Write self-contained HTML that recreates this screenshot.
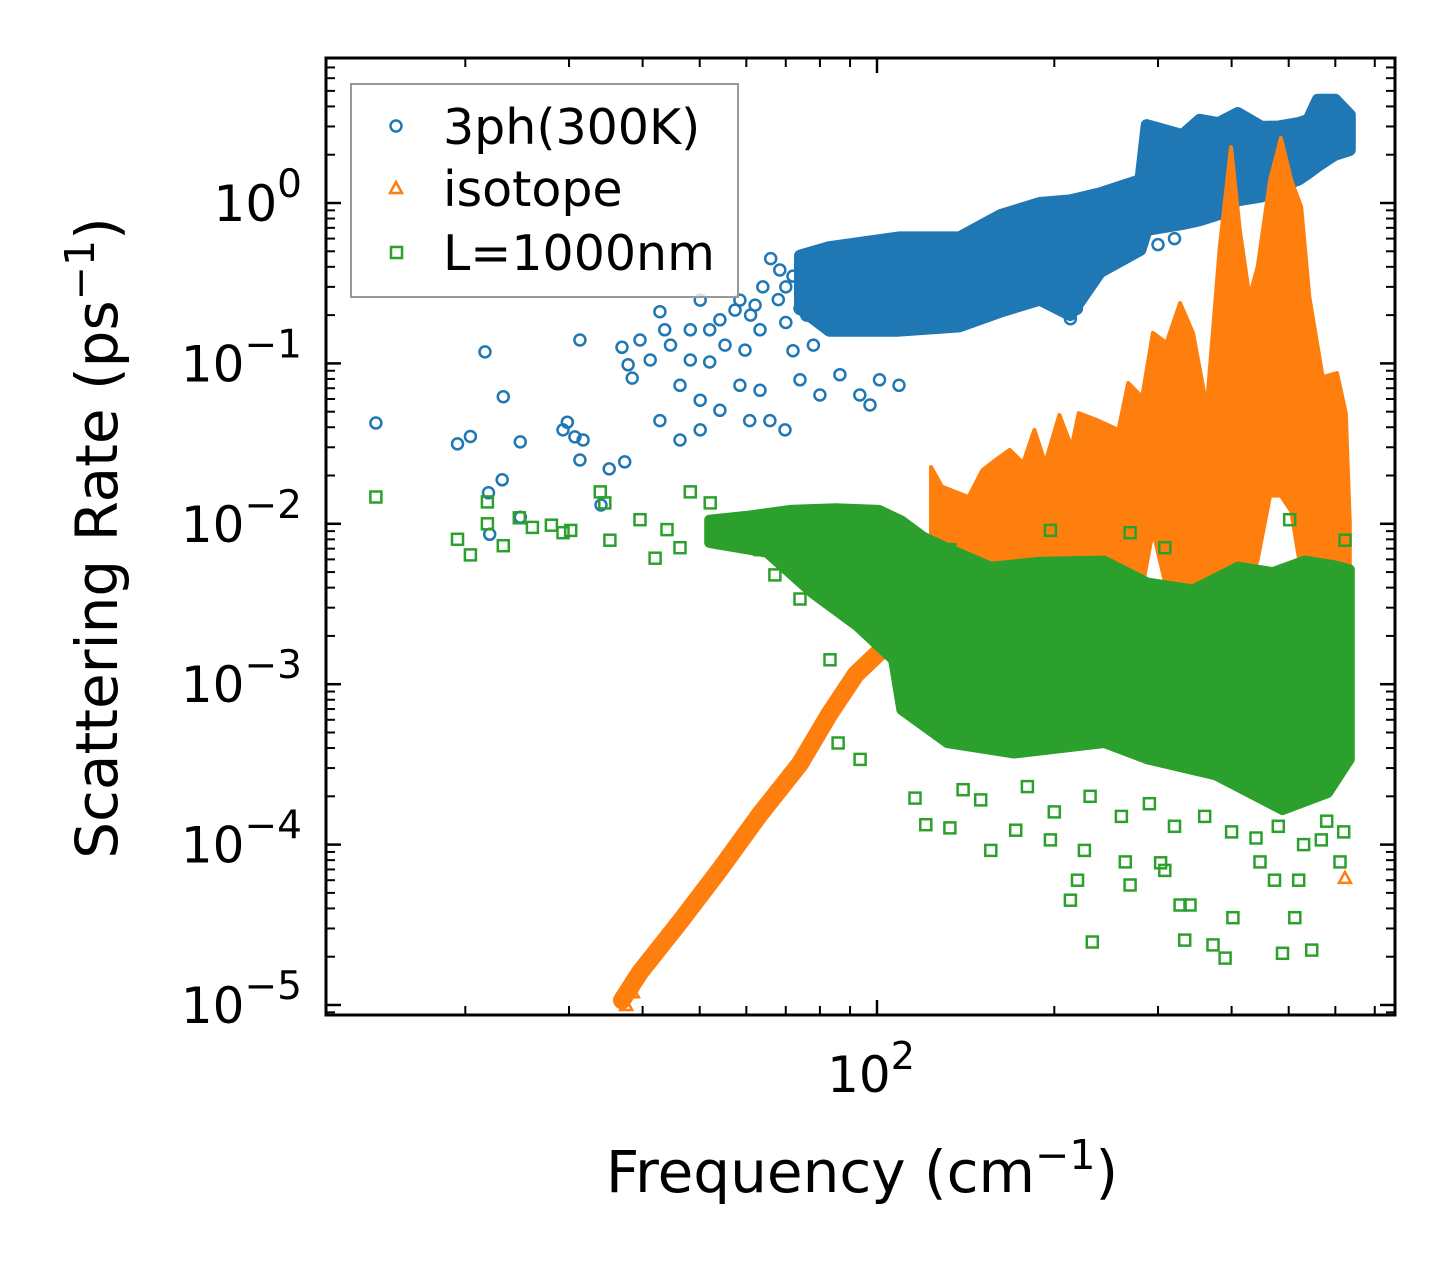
<!DOCTYPE html>
<html><head><meta charset="utf-8"><style>
html,body{margin:0;padding:0;background:#fff}
svg text{font-family:"DejaVu Sans","Liberation Sans",sans-serif}
</style></head><body>
<svg id="chart" width="1455" height="1265" viewBox="0 0 1455 1265" xmlns="http://www.w3.org/2000/svg">
<rect x="0" y="0" width="1455" height="1265" fill="#fff"/>
<g id="plot"></g>
<g id="axes"></g>
<g id="legend">
<rect x="351" y="84" width="387" height="213" fill="#fff" fill-opacity="0.8" stroke="#999" stroke-width="2"/>
<circle cx="396" cy="126" r="5.5" fill="none" stroke="#1f77b4" stroke-width="2.5"/>
<text x="443" y="144" font-size="49">3ph(300K)</text>
<path d="M396,182 L402,193 L390,193 Z" fill="none" stroke="#ff7f0e" stroke-width="2.5"/>
<text x="443" y="206" font-size="49">isotope</text>
<rect x="391" y="247" width="11" height="11" fill="none" stroke="#2ca02c" stroke-width="2.5"/>
<text x="443" y="270" font-size="49">L=1000nm</text>
</g>
<text x="862" y="1192" font-size="58" text-anchor="middle">Frequency (cm<tspan font-size="41" dy="-23">−1</tspan><tspan dy="23">)</tspan></text>
<text transform="translate(117,538) rotate(-90)" x="0" y="0" font-size="58" text-anchor="middle">Scattering Rate (ps<tspan font-size="41" dy="-23">−1</tspan><tspan dy="23">)</tspan></text>
</svg>
<script>
// ---- data ----
const blueBandF  = [74, 83, 109, 138, 162, 189, 213, 239, 280, 287, 330, 353, 380, 410, 450, 480, 520, 540, 560, 590, 600, 635];
const blueBandHi = [0.47,0.53,0.61,0.61,0.84,1.0,1.04,1.15,1.39,3.06,2.65,3.3,3.15,3.64,2.98,3.0,3.15,3.3,4.4,4.4,4.4,3.54];
const blueBandLo = [0.22,0.16,0.16,0.17,0.21,0.25,0.2,0.37,0.51,0.68,0.74,0.78,0.85,1.04,1.1,1.26,1.4,1.54,1.7,1.93,2.0,2.14];
const blueF = [14.1,19.4,20.4,21.6,23.2,21.9,23.1,22.0,24.8,24.8,29.3,29.8,30.7,31.7,31.3,31.3,35.1,37.3,34.0,36.9,37.8,38.4,39.6,42.8,43.6,46.3,48.2,50.1,52,54.1,57.4,58.5,60.8,63.3,65.8,69.8,74,80,86.5,93.5,97.3,101,109,42.8,46.3,50.1,54.1,59.7,63.3,50.1,58.5,48.2,41.2,44.6,52,55.2,62.1,68.4,66,70,72,76,78,64,61,213,218,300,320,68,72,76,80,70,74];
const blueR = [0.0425,0.0315,0.035,0.118,0.062,0.0156,0.0188,0.0086,0.0324,0.011,0.0385,0.043,0.0348,0.0333,0.025,0.14,0.022,0.0243,0.0131,0.126,0.098,0.081,0.14,0.21,0.162,0.073,0.162,0.059,0.102,0.187,0.215,0.073,0.044,0.068,0.044,0.0385,0.079,0.0635,0.085,0.0635,0.055,0.079,0.073,0.044,0.0333,0.0385,0.051,0.121,0.162,0.248,0.248,0.105,0.105,0.13,0.162,0.13,0.231,0.382,0.45,0.3,0.12,0.2,0.13,0.3,0.2,0.19,0.22,0.55,0.6,0.25,0.35,0.42,0.3,0.18,0.22];

const isoRampF = [36.9, 39.6, 46.3, 54.1, 63.3, 74, 83, 92, 102, 112, 123];
const isoRampR = [1.07e-5,1.6e-5,3.3e-5,7.0e-5,1.55e-4,3.2e-4,6.5e-4,1.15e-3,1.65e-3,2.2e-3,3.4e-3];
const isoTopF = [123.5,129,143,151,159,168,177,185,193,204,214,220,236,257,267,282,294,310,327,344,363,382,399,413,429,443,465,485,505,525,542,571,604,625,635];
const isoTopR = [0.0226,0.017,0.0147,0.0216,0.025,0.0289,0.0239,0.0385,0.0239,0.0477,0.0301,0.049,0.0444,0.0385,0.0755,0.0617,0.155,0.134,0.238,0.155,0.0535,0.532,2.23,0.68,0.26,0.40,1.39,2.54,1.39,0.944,0.26,0.082,0.087,0.049,0.0101];
const isoBotR = [0.004,0.004,0.004,0.004,0.004,0.004,0.004,0.004,0.004,0.004,0.004,0.004,0.004,0.004,0.004,0.004,0.009,0.004,0.004,0.004,0.004,0.004,0.004,0.004,0.004,0.006,0.015,0.015,0.012,0.005,0.004,0.004,0.004,0.004,0.004];
const isoF = [37.5,38.5,481,481,481,485,623,623,622];
const isoR = [1.0e-5,1.2e-5,0.051,0.04,0.029,0.022,6.2e-5,6.0e-4,1.2e-3];

const grnTopF = [51.9,60,71.2,85,100.8,110,120,135,156,190,243,288,344,410,470,532,600,635];
const grnTopR = [0.0106,0.0112,0.0122,0.0125,0.0122,0.0105,0.0083,0.0068,0.0054,0.0058,0.0059,0.0043,0.0039,0.0054,0.005,0.0059,0.0055,0.0052];
const grnBotF = [51.9,65,77.6,92.5,106.5,110,131.5,171,243,288,376,488,583,635];
const grnBotR = [0.0076,0.0066,0.0037,0.0023,0.00142,6.9e-4,4.3e-4,3.7e-4,4.3e-4,3.4e-4,2.7e-4,1.64e-4,2.1e-4,3.4e-4];
const grnF = [14.1,19.4,20.4,21.8,21.8,23.2,24.7,29.3,30.2,33.9,34.5,35.2,39.6,42.0,48.2,52.1,46.3,59.7,63.3,67.1,74,83.2,85.9,93.6,116,121,133,156,172,197,213,219,225,232,269,264,303,308,327,333,340,372,390,402,447,473,488,512,520,547,611,568,623,623,197,308,502,269,114,133,168,249,26,28,44,56,62,140,150,180,200,230,260,290,320,360,400,440,480,530,580,620];
const grnR = [0.0147,0.008,0.0064,0.01,0.0137,0.0073,0.0109,0.0088,0.0091,0.0158,0.0135,0.0079,0.0106,0.0061,0.0158,0.0135,0.0071,0.0073,0.0069,0.0048,0.0034,0.00142,4.3e-4,3.4e-4,1.95e-4,1.33e-4,1.27e-4,9.2e-5,1.23e-4,1.07e-4,4.5e-5,6.0e-5,9.2e-5,2.47e-5,5.6e-5,7.8e-5,7.7e-5,6.9e-5,4.2e-5,2.54e-5,4.2e-5,2.37e-5,1.96e-5,3.5e-5,7.8e-5,6.0e-5,2.1e-5,3.5e-5,6.0e-5,2.2e-5,7.8e-5,1.07e-4,0.0039,0.0079,0.0091,0.0071,0.0106,0.0088,0.0079,0.0069,0.0029,0.0049,0.0095,0.0098,0.0092,0.0087,0.0096,2.2e-4,1.9e-4,2.3e-4,1.6e-4,2.0e-4,1.5e-4,1.8e-4,1.3e-4,1.5e-4,1.2e-4,1.1e-4,1.3e-4,1.0e-4,1.4e-4,1.2e-4];

const xMajor = [100];
const xMinor = [20,30,40,50,60,70,80,90,200,300,400,500,600,700];
const yMajor = [-5,-4,-3,-2,-1,0];
const yMajorLabels = ["−5","−4","−3","−2","−1","0"];

// ---- axes ----
const L=326,R=1395,T=58,B=1015;
function X(f){return 877+589*(Math.log10(f)-2);}
function Y(r){return 203-160.4*Math.log10(r);}
const NS="http://www.w3.org/2000/svg";
const plot=document.getElementById('plot'), axes=document.getElementById('axes');
function mk(tag,attrs,parent){const e=document.createElementNS(NS,tag);for(const k in attrs)e.setAttribute(k,attrs[k]);parent.appendChild(e);return e;}

const defs=mk('defs',{},plot);
const cp=mk('clipPath',{id:'clip'},defs);
mk('rect',{x:L,y:T,width:R-L,height:B-T},cp);
const g=mk('g',{'clip-path':'url(#clip)'},plot);

// blue band
let pts=[];
blueBandF.forEach((f,i)=>pts.push(X(f).toFixed(1)+','+Y(blueBandHi[i]).toFixed(1)));
for(let i=blueBandF.length-1;i>=0;i--)pts.push(X(blueBandF[i]).toFixed(1)+','+Y(blueBandLo[i]).toFixed(1));
let e=mk('polygon',{points:pts.join(' '),fill:'#1f77b4',stroke:'#1f77b4','stroke-width':12,'stroke-linejoin':'round'},g);


blueF.forEach((f,i)=>{
  const c=mk('circle',{cx:X(f).toFixed(1),cy:Y(blueR[i]).toFixed(1),r:5.5,fill:'none',stroke:'#1f77b4','stroke-width':2.5},g);
  
  
});

// orange ramp
pts=isoRampF.map((f,i)=>X(f).toFixed(1)+','+Y(isoRampR[i]).toFixed(1));
e=mk('polyline',{points:pts.join(' '),fill:'none',stroke:'#ff7f0e','stroke-width':18,'stroke-linejoin':'round','stroke-linecap':'round'},g);


// orange peaks
pts=[];
isoTopF.forEach((f,i)=>pts.push(X(f).toFixed(1)+','+Y(isoTopR[i]).toFixed(1)));
for(let i=isoTopF.length-1;i>=0;i--)pts.push(X(isoTopF[i]).toFixed(1)+','+Y(isoBotR[i]).toFixed(1));
e=mk('polygon',{points:pts.join(' '),fill:'#ff7f0e',stroke:'#ff7f0e','stroke-width':4,'stroke-linejoin':'round'},g);


isoF.forEach((f,i)=>{
  const x=X(f),y=Y(isoR[i]);
  const t=mk('path',{d:`M${x},${y-6} L${x+6},${y+5} L${x-6},${y+5} Z`,fill:'none',stroke:'#ff7f0e','stroke-width':2.5},g);
  
  
});

// green band
pts=[];
grnTopF.forEach((f,i)=>pts.push(X(f).toFixed(1)+','+Y(grnTopR[i]).toFixed(1)));
for(let i=grnBotF.length-1;i>=0;i--)pts.push(X(grnBotF[i]).toFixed(1)+','+Y(grnBotR[i]).toFixed(1));
e=mk('polygon',{points:pts.join(' '),fill:'#2ca02c',stroke:'#2ca02c','stroke-width':10,'stroke-linejoin':'round'},g);


grnF.forEach((f,i)=>{
  const s=mk('rect',{x:(X(f)-5.5).toFixed(1),y:(Y(grnR[i])-5.5).toFixed(1),width:11,height:11,fill:'none',stroke:'#2ca02c','stroke-width':2.5},g);
  
  
});

// frame
e=mk('rect',{x:L,y:T,width:R-L,height:B-T,fill:'none',stroke:'#000','stroke-width':3},axes);


function tick(x1,y1,x2,y2,w,name){const t=mk('line',{x1,y1,x2,y2,stroke:'#000','stroke-width':w},axes);}
xMajor.forEach(f=>{const x=X(f);tick(x,B,x,B-15,2.5,'x-major-tick');tick(x,T,x,T+15,2.5,'x-major-tick-top');
  const t=mk('text',{x:x-6,y:1092,'font-size':50,'text-anchor':'middle'},axes);t.innerHTML='10<tspan font-size="38" dy="-23">2</tspan>';
  
  });
xMinor.forEach(f=>{const x=X(f);tick(x,B,x,B-9,2,'x-minor-tick');tick(x,T,x,T+9,2,'x-minor-tick-top');});
yMajor.forEach((p,i)=>{const y=Y(Math.pow(10,p));tick(L,y,L+15,y,2.5,'y-major-tick');tick(R,y,R-15,y,2.5,'y-major-tick-right');
  const t=mk('text',{x:302,y:y+18,'font-size':50,'text-anchor':'end'},axes);t.innerHTML='10<tspan font-size="39" dy="-24">'+yMajorLabels[i]+'</tspan>';
  
  
  for(let m=2;m<=9;m++){const r=m*Math.pow(10,p);const yy=Y(r);if(yy>T+1&&yy<B-1){tick(L,yy,L+9,yy,2,'y-minor-tick');tick(R,yy,R-9,yy,2,'y-minor-tick-right');}}
});
for(let m=2;m<=9;m++){const yy=Y(m*1e-6);if(yy>T+1&&yy<B-1){tick(L,yy,L+9,yy,2,'y-minor-tick');tick(R,yy,R-9,yy,2,'y-minor-tick-right');}}
</script>
</body></html>
